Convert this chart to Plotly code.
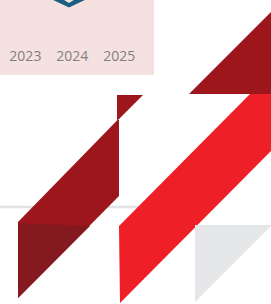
import plotly.graph_objects as go

# ---- data -------------------------------------------------------------
years = ["2023", "2024", "2025"]
year_values = [None, None, None]       # series values are off-crop

# decorative polygons (vertex lists in page pixel units)
mark_outer_x = [51, 87, 69]
mark_outer_y = [-1, -1, 7.5]
mark_inner_x = [62.5, 75.5, 69]
mark_inner_y = [-1, -1, 3]
tri_top_x = [271, 189, 271]
tri_top_y = [12, 94, 94]
tri_small_x = [117, 143, 117]
tri_small_y = [95, 95, 121]
band_dark_x = [117.5, 119, 119, 18, 18]
band_dark_y = [120, 120, 196, 298, 222]
band_darker_x = [18, 90, 18]
band_darker_y = [223, 226, 298]
band_red_x = [250, 272, 272, 120, 119]
band_red_y = [94, 94, 150, 303, 226]
tri_gray_x = [195, 272, 195]
tri_gray_y = [225, 225, 302]

BLUE = "#1d5e7e"
DARK = "#9c161b"
DARKER = "#841a1f"
RED = "#ee1f27"
GRAY = "#e5e6e8"
PINK = "#f6e1e1"

fig = go.Figure()

polys = [
    (mark_outer_x, mark_outer_y, BLUE),
    (mark_inner_x, mark_inner_y, PINK),
    (tri_top_x, tri_top_y, DARK),
    (tri_small_x, tri_small_y, DARK),
    (band_dark_x, band_dark_y, DARK),
    (band_darker_x, band_darker_y, DARKER),
    (band_red_x, band_red_y, RED),
    (tri_gray_x, tri_gray_y, GRAY),
]
for xs, ys, c in polys:
    fig.add_trace(go.Scatter(
        x=xs, y=ys, fill="toself", fillcolor=c, mode="lines",
        line=dict(width=0, color=c), hoverinfo="skip", showlegend=False,
    ))

fig.add_trace(go.Scatter(
    x=years, y=year_values, xaxis="x2", yaxis="y2", mode="markers",
    hoverinfo="skip", showlegend=False,
))

fig.update_layout(
    width=271, height=304,
    margin=dict(l=0, r=0, t=0, b=0),
    paper_bgcolor="white",
    plot_bgcolor="rgba(0,0,0,0)",
    xaxis=dict(range=[0, 271], visible=False, fixedrange=True),
    yaxis=dict(range=[304, 0], visible=False, fixedrange=True),
    xaxis2=dict(domain=[0, 154 / 271], anchor="y2", type="category",
                range=[-0.54, 2.737], showgrid=False, zeroline=False,
                showline=False, ticks="",
                tickfont=dict(family="Open Sans", size=14, color="#7f7f7f")),
    yaxis2=dict(domain=[1 - 46 / 304, 1], anchor="x2", range=[0, 1],
                visible=False),
    shapes=[
        dict(type="rect", xref="paper", yref="paper",
             x0=0, x1=154 / 271, y0=1 - 75 / 304, y1=1,
             fillcolor=PINK, line=dict(width=0), layer="below"),
        dict(type="line", xref="x", yref="y", x0=0, x1=190, y0=207, y1=207,
             line=dict(color="#e3e3e3", width=2.5), layer="below"),
    ],
)

fig.write_html("out.html", config={"displayModeBar": False},
               post_script="document.body.style.margin='0';")
